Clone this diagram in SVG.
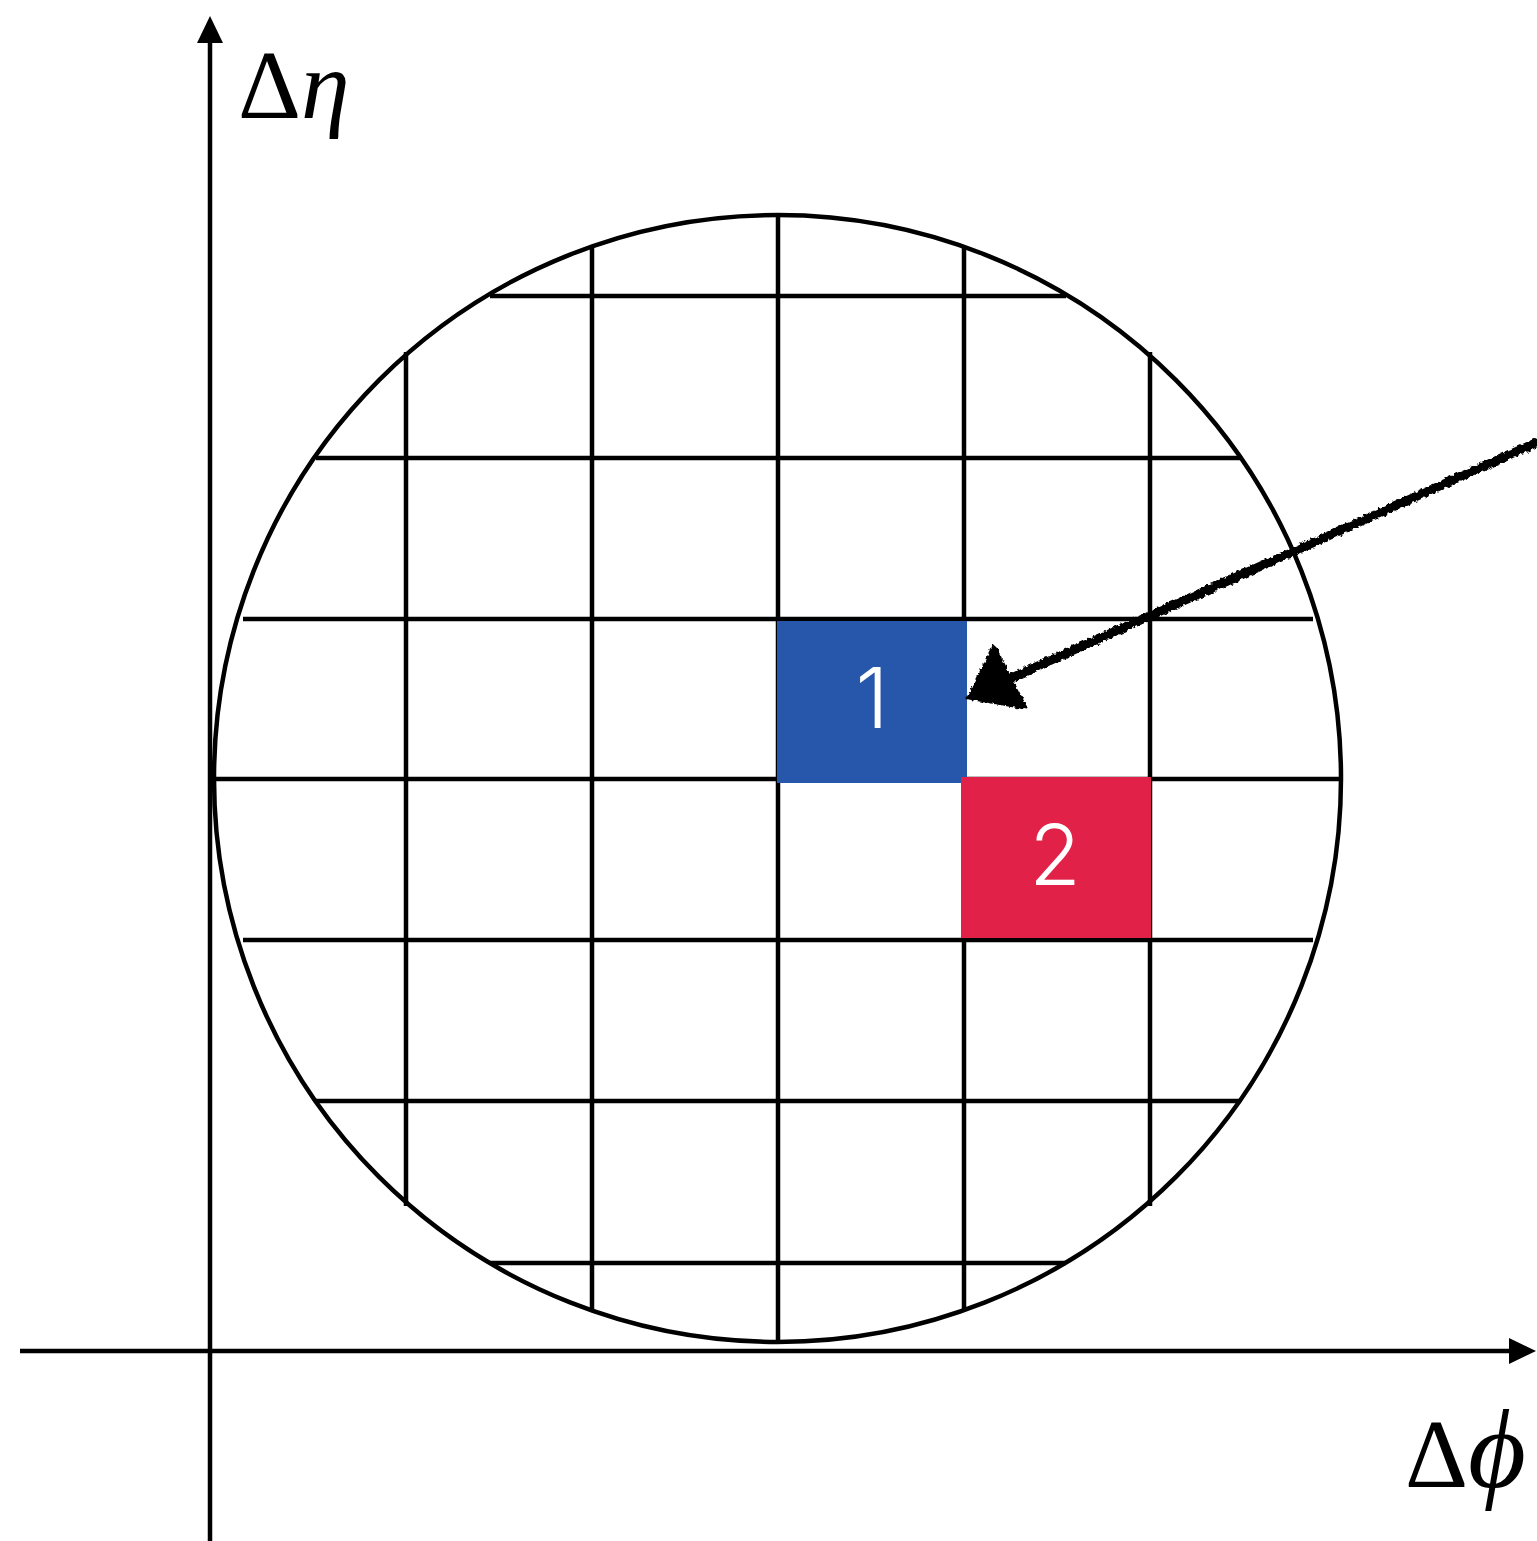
<svg xmlns="http://www.w3.org/2000/svg" width="1537" height="1541" viewBox="0 0 1537 1541">
<style>
.g{stroke:#000;stroke-width:4.5;fill:none}
.ax{stroke:#000;stroke-width:4.5;fill:none}
.num{font-family:Inter,"Noto Sans","Liberation Sans",sans-serif;font-weight:300;font-size:84px;fill:#fff;text-anchor:middle}
.lab{font-family:"Liberation Serif","DejaVu Serif",serif;font-size:98px;fill:#000}
</style>
<defs>
<filter id="rough" x="-10%" y="-10%" width="120%" height="120%">
<feTurbulence type="fractalNoise" baseFrequency="0.25" numOctaves="2" seed="3" result="n"/>
<feDisplacementMap in="SourceGraphic" in2="n" scale="5" xChannelSelector="R" yChannelSelector="G"/>
</filter>
</defs>
<rect width="1537" height="1541" fill="#fff"/>
<g id="grid">
<line class="g" x1="490" y1="296" x2="1066" y2="296"/>
<line class="g" x1="316" y1="458" x2="1240" y2="458"/>
<line class="g" x1="243" y1="619" x2="1313" y2="619"/>
<line class="g" x1="214" y1="779" x2="1341" y2="779"/>
<line class="g" x1="243" y1="940" x2="1313" y2="940"/>
<line class="g" x1="316" y1="1101" x2="1240" y2="1101"/>
<line class="g" x1="490" y1="1263" x2="1066" y2="1263"/>
<line class="g" x1="406" y1="352" x2="406" y2="1206"/>
<line class="g" x1="592" y1="246" x2="592" y2="1310"/>
<line class="g" x1="778" y1="215" x2="778" y2="1342"/>
<line class="g" x1="964" y1="246" x2="964" y2="1310"/>
<line class="g" x1="1150" y1="352" x2="1150" y2="1206"/>
</g>
<g id="circle"><circle class="g" cx="777.5" cy="778.5" r="563.5"/></g>
<g id="cell1">
<rect x="777" y="621" width="190" height="162" fill="#2757AB"/>
<text class="num" x="872" y="728">1</text>
</g>
<g id="cell2">
<rect x="961" y="777" width="190" height="161" fill="#E12148"/>
<text class="num" x="1055" y="885">2</text>
</g>
<g id="axes">
<line class="ax" x1="210" y1="1541" x2="210" y2="40"/>
<polygon points="210,16 197,43 223,43" fill="#000"/>
<line class="ax" x1="20" y1="1351" x2="1512" y2="1351"/>
<polygon points="1536,1351 1509,1338 1509,1364" fill="#000"/>
</g>
<g id="labels">
<text class="lab" x="238" y="118">Δ<tspan font-style="italic">η</tspan></text>
<text class="lab" x="1405" y="1487">Δ<tspan font-style="italic" font-size="112">ϕ</tspan></text>
</g>
<g id="connectors" filter="url(#rough)">
<line x1="1540" y1="441" x2="1000" y2="683" stroke="#000" stroke-width="9" stroke-linecap="round"/>
<polygon points="994,646 968,698 1026,708" fill="#000" stroke="#000" stroke-width="3" stroke-linejoin="round"/>
</g>
</svg>
